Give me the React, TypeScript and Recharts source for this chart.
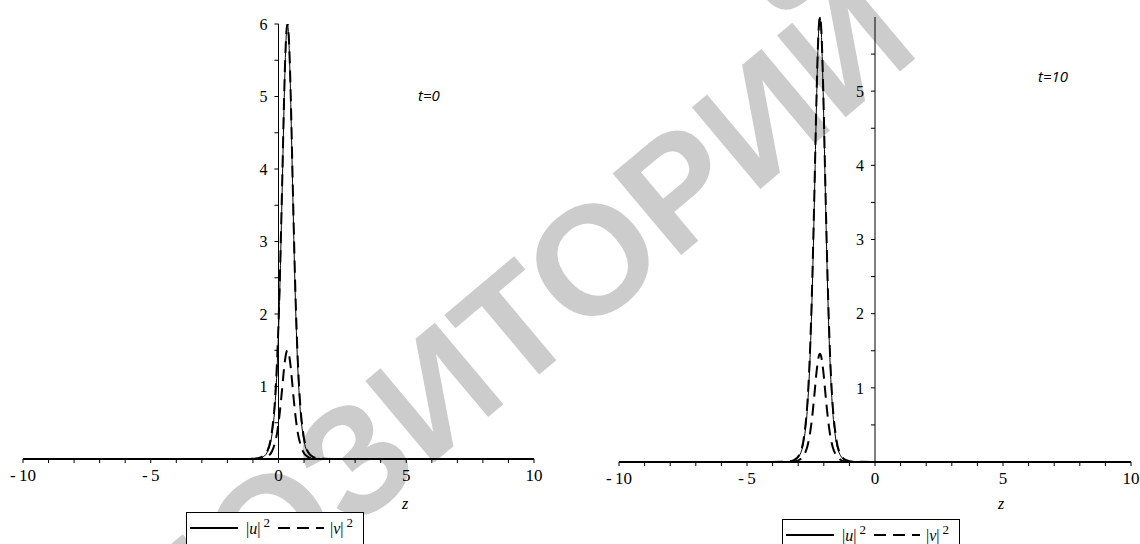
import React from 'react';
import { LineChart, Line, XAxis, YAxis, ReferenceLine } from 'recharts';

// t = 0 panel, sampled around the peak at z ~ 0.35
const zLeft = [-10, -2, -0.95, -0.65, -0.45, -0.25, -0.15, -0.05, 0.05, 0.1, 0.15, 0.2, 0.25, 0.3, 0.35, 0.4, 0.45, 0.5, 0.55, 0.6, 0.65, 0.75, 0.85, 0.95, 1.15, 1.35, 1.65, 2.7, 10];
const uLeft = [0, 0, 0.003, 0.022, 0.088, 0.35, 0.68, 1.3, 2.33, 3.03, 3.81, 4.61, 5.32, 5.82, 6, 5.82, 5.32, 4.61, 3.81, 3.03, 2.33, 1.3, 0.68, 0.35, 0.088, 0.022, 0.003, 0, 0];
const uDashLeft = [0, 0, 0.004, 0.03, 0.1, 0.4, 0.75, 1.4, 2.45, 3.15, 3.9, 4.7, 5.38, 5.84, 6, 5.84, 5.38, 4.7, 3.9, 3.15, 2.45, 1.4, 0.75, 0.4, 0.1, 0.03, 0.004, 0, 0];
const vLeft = [0, 0, 0.001, 0.008, 0.03, 0.11, 0.21, 0.37, 0.64, 0.81, 1.0, 1.19, 1.35, 1.46, 1.5, 1.46, 1.35, 1.19, 1.0, 0.81, 0.64, 0.37, 0.21, 0.11, 0.03, 0.008, 0.001, 0, 0];

// t = 10 panel, peak moved to z ~ -2.15
const zRight = [-10, -4.5, -3.45, -3.15, -2.95, -2.75, -2.65, -2.55, -2.45, -2.4, -2.35, -2.3, -2.25, -2.2, -2.15, -2.1, -2.05, -2.0, -1.95, -1.9, -1.85, -1.75, -1.65, -1.55, -1.35, -1.15, -0.85, 0.2, 10];
const uRight = [0, 0, 0.003, 0.022, 0.088, 0.35, 0.68, 1.3, 2.33, 3.03, 3.81, 4.61, 5.32, 5.82, 6, 5.82, 5.32, 4.61, 3.81, 3.03, 2.33, 1.3, 0.68, 0.35, 0.088, 0.022, 0.003, 0, 0];
const uDashRight = [0, 0, 0.004, 0.03, 0.1, 0.4, 0.75, 1.4, 2.45, 3.15, 3.9, 4.7, 5.38, 5.84, 6, 5.84, 5.38, 4.7, 3.9, 3.15, 2.45, 1.4, 0.75, 0.4, 0.1, 0.03, 0.004, 0, 0];
const vRight = [0, 0, 0.001, 0.008, 0.03, 0.11, 0.2, 0.36, 0.62, 0.79, 0.97, 1.16, 1.31, 1.42, 1.46, 1.42, 1.31, 1.16, 0.97, 0.79, 0.62, 0.36, 0.2, 0.11, 0.03, 0.008, 0.001, 0, 0];

const xTicks = [-10, -9, -8, -7, -6, -5, -4, -3, -2, -1, 0, 1, 2, 3, 4, 5, 6, 7, 8, 9, 10];
const yTicksLeft = [0.5, 1, 1.5, 2, 2.5, 3, 3.5, 4, 4.5, 5, 5.5, 6];
const yLabelsLeft = [1, 2, 3, 4, 5, 6];
const yTicksRight = [0.5, 1, 1.5, 2, 2.5, 3, 3.5, 4, 4.5, 5, 5.5];
const yLabelsRight = [1, 2, 3, 4, 5];

const serif = '"Liberation Serif", "DejaVu Serif", serif';
const dash = '12 7';

const toRows = (z: number[], u: number[], ud: number[], v: number[]) =>
  z.map((x, i) => ({ z: x, u: u[i], ud: ud[i], v: v[i] }));

const fmtX = (v: number) => {
  if (v % 5 !== 0) return '';
  return v < 0 ? '-\u2009' + Math.abs(v) : String(v);
};

function Panel({ rows, width, height, margin, yTicks, yLabels }: any) {
  return (
    <LineChart width={width} height={height} data={rows} margin={margin}>
      <XAxis
        dataKey="z"
        type="number"
        domain={[-10, 10]}
        ticks={xTicks}
        interval={0}
        allowDataOverflow
        tickFormatter={fmtX}
        axisLine={{ stroke: '#000', strokeWidth: 2 }}
        tickLine={{ stroke: '#000' }}
        tickSize={4}
        tickMargin={6}
        height={30}
        tick={{ fill: '#000', fontSize: 17, fontFamily: serif }}
      />
      <YAxis hide type="number" domain={[0, 6]} allowDataOverflow />
      <ReferenceLine x={0} stroke="#000" strokeWidth={1} />
      {yTicks.map((t: number) => (
        <ReferenceLine
          key={t}
          segment={[{ x: -0.16, y: t }, { x: 0, y: t }]}
          stroke="#000"
          label={
            yLabels.includes(t)
              ? { value: String(t), position: 'left', offset: 7, fill: '#000', fontSize: 16, fontFamily: serif }
              : undefined
          }
        />
      ))}
      <Line dataKey="u" type="monotone" stroke="#000" strokeWidth={1} dot={false} isAnimationActive={false} />
      <Line dataKey="ud" type="monotone" stroke="#000" strokeWidth={2} strokeDasharray={dash} dot={false} isAnimationActive={false} />
      <Line dataKey="v" type="monotone" stroke="#000" strokeWidth={2} strokeDasharray={dash} dot={false} isAnimationActive={false} />
    </LineChart>
  );
}

function LegendBox({ left, top }: { left: number; top: number }) {
  return (
    <div style={{ position: 'absolute', left, top, width: 178, height: 40, border: '1px solid #000', boxSizing: 'border-box', background: '#fff' }}>
      <svg width={178} height={40}>
        <line x1={3} y1={15} x2={51} y2={15} stroke="#000" strokeWidth={2} />
        <text x={59} y={21} fontFamily={serif} fontSize={16} fill="#000">
          |<tspan fontStyle="italic">u</tspan>|<tspan dx={3} dy={-7} fontSize={13}>2</tspan>
        </text>
        <line x1={91} y1={15} x2={137} y2={15} stroke="#000" strokeWidth={2} strokeDasharray={dash} />
        <text x={143} y={21} fontFamily={serif} fontSize={16} fill="#000">
          |<tspan fontStyle="italic">v</tspan>|<tspan dx={3} dy={-7} fontSize={13}>2</tspan>
        </text>
      </svg>
    </div>
  );
}

const textStyle: React.CSSProperties = { position: 'absolute', color: '#000', whiteSpace: 'nowrap', lineHeight: 1 };

export default function App() {
  const left = toRows(zLeft, uLeft, uDashLeft, vLeft);
  const right = toRows(zRight, uRight, uDashRight, vRight);
  return (
    <div style={{ position: 'fixed', left: 0, top: 0, width: 1140, height: 544, background: '#fff', overflow: 'hidden' }}>
      <svg width={1140} height={544} style={{ position: 'absolute', left: 0, top: 0 }}>
        <text
          x={435}
          y={392}
          textAnchor="middle"
          dominantBaseline="central"
          fontFamily='"Liberation Sans", Arial, sans-serif'
          fontWeight="bold"
          fontSize={155}
          fill="#cccccc"
          transform="rotate(-40 435 392)"
        >
          РЕПОЗИТОРИЙ
        </text>
      </svg>
      <div style={{ position: 'absolute', left: 0, top: 0 }}>
        <Panel rows={left} width={560} height={544} margin={{ top: 24, left: 23, right: 26, bottom: 55 }} yTicks={yTicksLeft} yLabels={yLabelsLeft} />
      </div>
      <div style={{ position: 'absolute', left: 600, top: 0 }}>
        <Panel rows={right} width={540} height={544} margin={{ top: 17, left: 19, right: 9, bottom: 52 }} yTicks={yTicksRight} yLabels={yLabelsRight} />
      </div>
      <div style={{ ...textStyle, left: 402, top: 496, fontFamily: serif, fontStyle: 'italic', fontSize: 16 }}>z</div>
      <div style={{ ...textStyle, left: 998, top: 496, fontFamily: serif, fontStyle: 'italic', fontSize: 16 }}>z</div>
      <div style={{ ...textStyle, left: 418, top: 88, fontFamily: '"Open Sans", sans-serif', fontStyle: 'italic', fontSize: 15 }}>t=0</div>
      <div style={{ ...textStyle, left: 1038, top: 69, fontFamily: '"Open Sans", sans-serif', fontStyle: 'italic', fontSize: 15 }}>t=10</div>
      <LegendBox left={186} top={512} />
      <LegendBox left={782} top={519} />
    </div>
  );
}
